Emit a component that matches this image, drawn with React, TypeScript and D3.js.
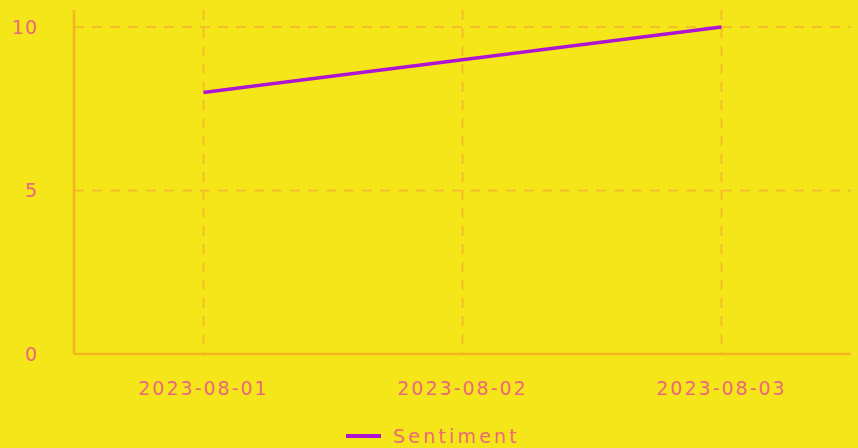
import React from "react";
import * as d3 from "d3";

const categories = ["2023-08-01", "2023-08-02", "2023-08-03"];
const sentiment = [8, 9, 10];
const yTicks = [0, 5, 10];
const seriesName = "Sentiment";

const W = 858;
const H = 448;
const M = { left: 74, right: 7, top: 10, bottom: 94 };

const BG = "#F5E61A";
const AXIS = "#F2B51E";
const GRID = "#F4BE2A";
const TEXT = "#EC6A78";
const LINE = "#AE14D2";
const FONT = "'DejaVu Sans', sans-serif";

export default function App() {
  const x = d3
    .scaleBand<string>()
    .domain(categories)
    .range([M.left, W - M.right]);
  const y = d3
    .scaleLinear()
    .domain([0, 10.52])
    .range([H - M.bottom, M.top]);
  const cx = (c: string) => (x(c) as number) + x.bandwidth() / 2;
  const line = d3
    .line<number>()
    .x((_, i) => cx(categories[i]))
    .y((d) => y(d));
  const y0 = y(0);

  return (
    <svg
      width={W}
      height={H}
      style={{ position: "absolute", left: 0, top: 0, background: BG }}
    >
      <rect x={0} y={0} width={W} height={H} fill={BG} />
      {yTicks.map((t) => (
        <line
          key={"h" + t}
          x1={M.left}
          x2={W - M.right}
          y1={y(t)}
          y2={y(t)}
          stroke={GRID}
          strokeWidth={2}
          strokeDasharray="10 8"
        />
      ))}
      {categories.map((c) => (
        <line
          key={"v" + c}
          x1={cx(c)}
          x2={cx(c)}
          y1={M.top}
          y2={y0}
          stroke={GRID}
          strokeWidth={2}
          strokeDasharray="10 8"
        />
      ))}
      <line x1={M.left} x2={M.left} y1={M.top} y2={y0} stroke={AXIS} strokeWidth={2.5} />
      <line x1={M.left} x2={W - M.right} y1={y0} y2={y0} stroke={AXIS} strokeWidth={2.5} />
      {yTicks.map((t) => (
        <text
          key={"yt" + t}
          x={38}
          y={y(t)}
          dy="0.35em"
          textAnchor="end"
          fill={TEXT}
          fontFamily={FONT}
          fontSize={19}
          letterSpacing={1}
        >
          {t}
        </text>
      ))}
      {categories.map((c) => (
        <text
          key={"xt" + c}
          x={cx(c)}
          y={388}
          dy="0.35em"
          textAnchor="middle"
          fill={TEXT}
          fontFamily={FONT}
          fontSize={19}
          letterSpacing={2}
        >
          {c}
        </text>
      ))}
      <path
        d={line(sentiment) || ""}
        fill="none"
        stroke={LINE}
        strokeWidth={3.5}
        strokeLinecap="butt"
      />
      <line x1={346} x2={381} y1={436} y2={436} stroke={LINE} strokeWidth={4} />
      <text
        x={393}
        y={436}
        dy="0.35em"
        fill={TEXT}
        fontFamily={FONT}
        fontSize={19}
        letterSpacing={3.2}
      >
        {seriesName}
      </text>
    </svg>
  );
}
